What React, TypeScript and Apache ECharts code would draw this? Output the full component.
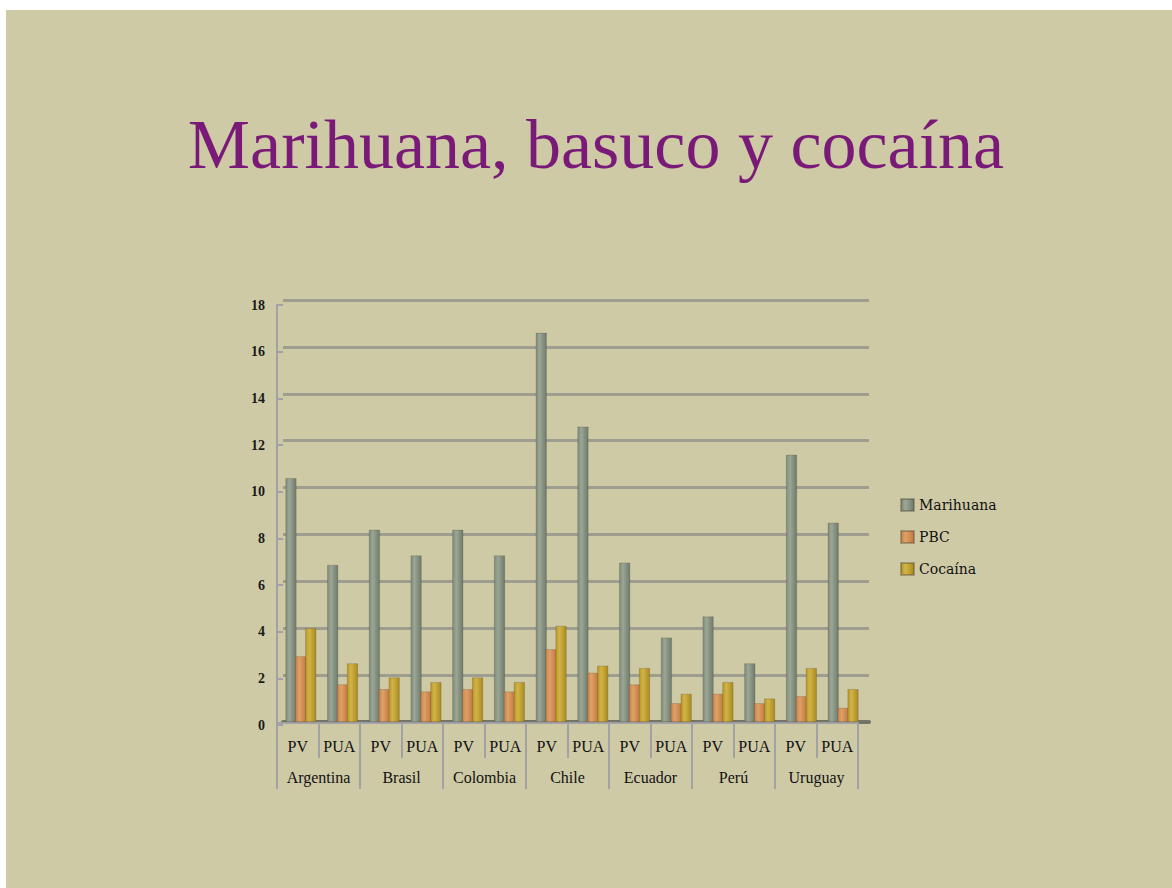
import React, { useEffect, useRef } from "react";
import * as echarts from "echarts";

const titleText = "Marihuana, basuco y cocaína";
const subCategories = ["PV", "PUA", "PV", "PUA", "PV", "PUA", "PV", "PUA", "PV", "PUA", "PV", "PUA", "PV", "PUA"];
const countries = ["Argentina", "Brasil", "Colombia", "Chile", "Ecuador", "Perú", "Uruguay"];
const seriesNames = ["Marihuana", "PBC", "Cocaína"];
const marihuana = [10.4, 6.7, 8.2, 7.1, 8.2, 7.1, 16.6, 12.6, 6.8, 3.6, 4.5, 2.5, 11.4, 8.5];
const pbc = [2.8, 1.6, 1.4, 1.3, 1.4, 1.3, 3.1, 2.1, 1.6, 0.8, 1.2, 0.8, 1.1, 0.6];
const cocaina = [4.0, 2.5, 1.9, 1.7, 1.9, 1.7, 4.1, 2.4, 2.3, 1.2, 1.7, 1.0, 2.3, 1.4];
const yMin = 0;
const yMax = 18;
const yStep = 2;

const grad = (a: string, b: string, c: string) =>
  new echarts.graphic.LinearGradient(0, 0, 1, 0, [
    { offset: 0, color: a },
    { offset: 0.35, color: b },
    { offset: 1, color: c },
  ]);

export default function App() {
  const ref = useRef<HTMLDivElement>(null);
  useEffect(() => {
    document.body.style.margin = "0";
    if (!ref.current) return;
    const chart = echarts.init(ref.current, undefined, { renderer: "svg" });
    const axisGray = "#a2a2a6";
    const colors = [
      grad("#7f8b7b", "#9ba695", "#6f7b6b"),
      grad("#c98349", "#e0a066", "#c07a42"),
      grad("#b8962a", "#d2b445", "#a88a22"),
    ];
    const data = [marihuana, pbc, cocaina];
    chart.setOption({
      animation: false,
      backgroundColor: "#ffffff",
      graphic: [
        {
          type: "rect",
          z: -10,
          shape: { x: 6, y: 10, width: 1166, height: 878 },
          style: { fill: "#cfcaa6" },
        },
        {
          type: "text",
          x: 596,
          y: 144,
          style: {
            text: titleText,
            font: "70px 'Liberation Serif'",
            fill: "#7a1a78",
            align: "center",
            verticalAlign: "middle",
            shadowColor: "rgba(60,40,20,0.45)",
            shadowBlur: 2,
            shadowOffsetX: 1,
            shadowOffsetY: 1,
          },
        },
      ],
      legend: {
        orient: "vertical",
        left: 900,
        top: 497,
        padding: 0,
        itemWidth: 13,
        itemHeight: 12,
        itemGap: 16,
        icon: "rect",
        data: seriesNames,
        textStyle: { fontFamily: "DejaVu Serif", fontSize: 14, color: "#111", lineHeight: 16 },
      },
      grid: [
        { left: 283, right: 303, top: 300, bottom: 166 },
        { left: 280, right: 308, top: 300, bottom: 166 },
        { left: 277, right: 314, top: 305, bottom: 163 },
        { left: 277, right: 314, top: 300, bottom: 165 },
      ],
      xAxis: [
        {
          gridIndex: 0,
          type: "category",
          data: subCategories,
          axisLine: { show: true, lineStyle: { color: "#737366", width: 4 } },
          axisTick: { show: false },
          axisLabel: { show: false },
        },
        { gridIndex: 1, type: "category", data: subCategories, show: false },
        { gridIndex: 2, type: "category", data: subCategories, show: false },
        {
          gridIndex: 3,
          type: "category",
          data: subCategories,
          position: "bottom",
          axisLine: { show: true, lineStyle: { color: axisGray, width: 2 } },
          axisTick: { show: true, interval: 0, length: 35, lineStyle: { color: axisGray, width: 2 } },
          axisLabel: {
            interval: 0,
            margin: 15,
            fontFamily: "Liberation Serif",
            fontSize: 16,
            color: "#111",
          },
        },
        {
          gridIndex: 3,
          type: "category",
          data: countries,
          position: "bottom",
          axisLine: { show: false },
          axisTick: { show: true, interval: 0, length: 66, lineStyle: { color: axisGray, width: 2 } },
          axisLabel: {
            interval: 0,
            margin: 46,
            fontFamily: "Liberation Serif",
            fontSize: 16,
            color: "#111",
          },
        },
      ],
      yAxis: [
        {
          gridIndex: 0,
          type: "value",
          min: yMin,
          max: yMax,
          interval: yStep,
          axisLine: { show: false },
          axisTick: { show: false },
          axisLabel: { show: false },
          splitLine: { show: true, lineStyle: { color: "#9d9d90", width: 3 } },
        },
        { gridIndex: 1, type: "value", min: yMin, max: yMax, show: false },
        {
          gridIndex: 2,
          type: "value",
          min: yMin,
          max: yMax,
          interval: yStep,
          axisLine: { show: true, lineStyle: { color: axisGray, width: 2 } },
          axisTick: { show: true, inside: true, length: 6, lineStyle: { color: axisGray, width: 2 } },
          splitLine: { show: false },
          axisLabel: {
            margin: 12,
            fontFamily: "Liberation Serif",
            fontWeight: "bold",
            fontSize: 14,
            color: "#1a1a1a",
          },
        },
        { gridIndex: 3, type: "value", min: yMin, max: yMax, show: false },
      ],
      series: seriesNames.map((name, i) => ({
        name,
        type: "bar",
        xAxisIndex: 1,
        yAxisIndex: 1,
        data: data[i],
        barWidth: 11,
        barGap: "-10%",
        itemStyle: {
          color: colors[i],
          borderColor: "rgba(70,60,40,0.35)",
          borderWidth: 0.6,
        },
      })),
    });
    return () => chart.dispose();
  }, []);
  return <div ref={ref} style={{ width: 1172, height: 888 }} />;
}
